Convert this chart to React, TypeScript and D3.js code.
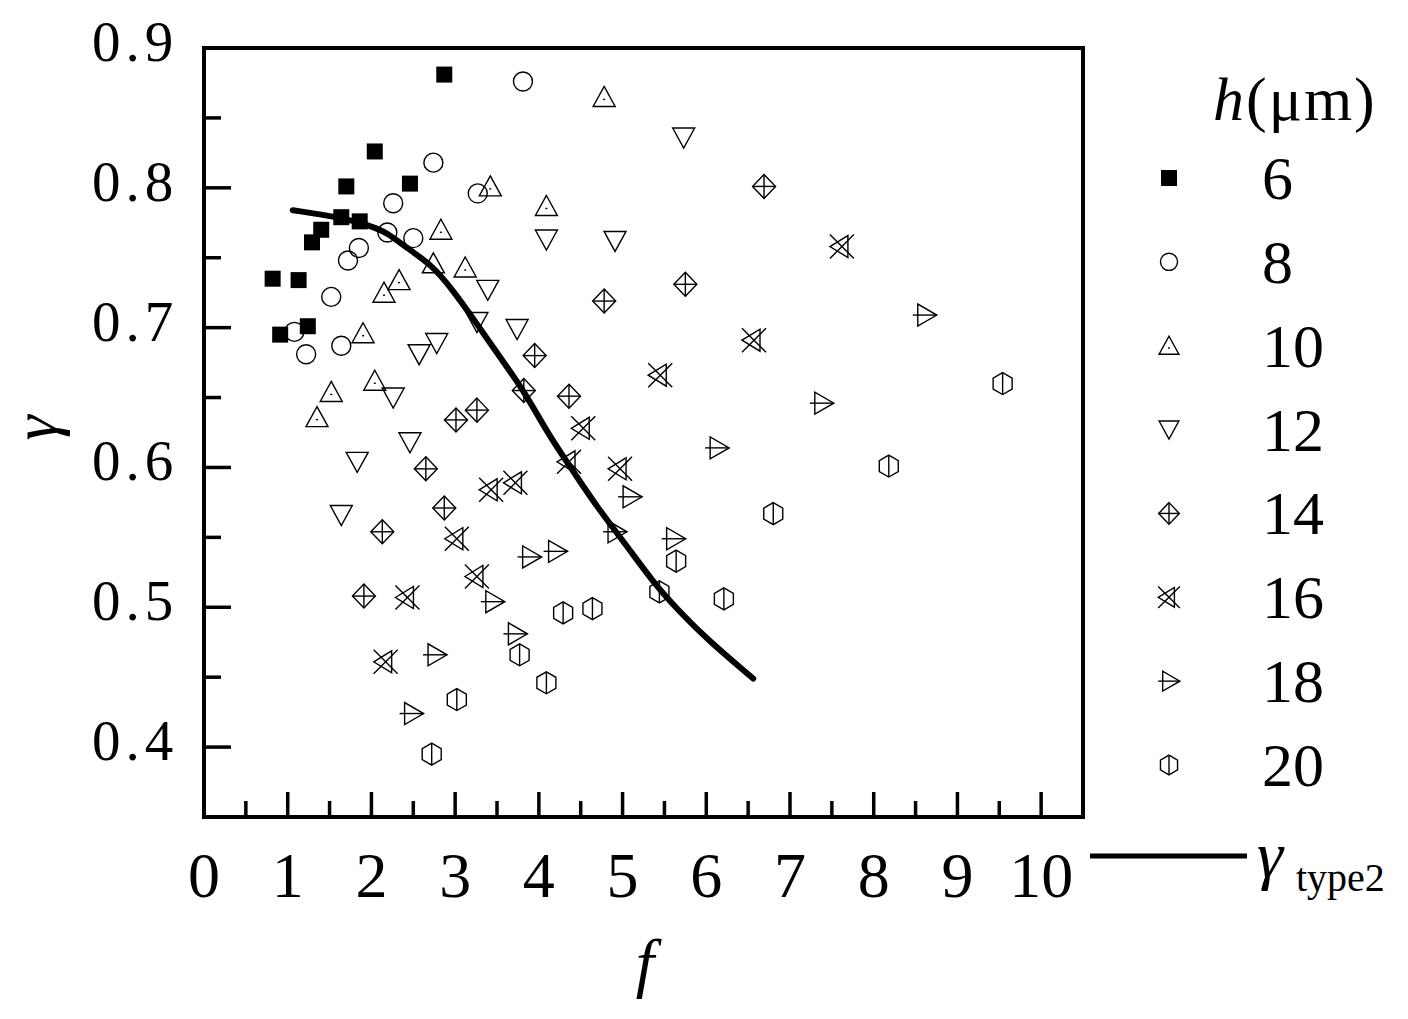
import React from "react";
import * as d3 from "d3";

// ---- data ----
const hLabels = ["6", "8", "10", "12", "14", "16", "18", "20"];

const s6x = [0.82, 1.13, 0.91, 1.24, 1.29, 1.40, 1.64, 1.70, 1.86, 2.04, 2.46, 2.87];
const s6y = [0.735, 0.734, 0.695, 0.701, 0.761, 0.770, 0.779, 0.801, 0.776, 0.826, 0.803, 0.881];

const s8x = [3.81, 2.74, 3.27, 2.26, 2.19, 2.50, 1.85, 1.72, 1.52, 1.08, 1.64, 1.22];
const s8y = [0.876, 0.818, 0.796, 0.789, 0.768, 0.764, 0.757, 0.748, 0.722, 0.697, 0.687, 0.681];

const s10x = [4.78, 3.42, 4.09, 2.83, 2.74, 3.12, 2.33, 2.15, 1.90, 2.04, 1.52, 1.35];
const s10y = [0.865, 0.801, 0.787, 0.770, 0.746, 0.743, 0.734, 0.725, 0.696, 0.662, 0.654, 0.636];

const s12x = [5.73, 4.09, 4.91, 3.39, 3.26, 3.74, 2.78, 2.57, 2.26, 2.46, 1.83, 1.64];
const s12y = [0.836, 0.763, 0.762, 0.727, 0.704, 0.699, 0.689, 0.681, 0.650, 0.618, 0.604, 0.566];

const s14x = [6.69, 5.75, 4.78, 3.95, 3.82, 4.36, 3.26, 3.01, 2.65, 2.87, 2.13, 1.91];
const s14y = [0.801, 0.731, 0.719, 0.680, 0.655, 0.651, 0.641, 0.634, 0.599, 0.571, 0.554, 0.508];

const s16x = [7.62, 6.57, 5.45, 4.97, 4.53, 4.36, 3.72, 3.43, 3.02, 3.26, 2.43, 2.17];
const s16y = [0.758, 0.691, 0.666, 0.599, 0.628, 0.604, 0.589, 0.584, 0.549, 0.522, 0.507, 0.461];

const s18x = [8.61, 7.38, 6.13, 5.61, 5.09, 4.91, 4.20, 3.89, 3.45, 3.72, 2.76, 2.48];
const s18y = [0.709, 0.646, 0.614, 0.549, 0.579, 0.554, 0.540, 0.536, 0.504, 0.481, 0.466, 0.424];

const s20x = [9.54, 8.18, 6.80, 6.21, 5.64, 5.44, 4.64, 4.29, 3.77, 4.09, 3.02, 2.72];
const s20y = [0.660, 0.601, 0.567, 0.506, 0.533, 0.511, 0.499, 0.496, 0.466, 0.446, 0.434, 0.395];

const curveX = [1.06, 1.62, 1.98, 2.19, 2.42, 2.72, 2.97, 3.21, 3.58, 3.82, 4.13, 4.37, 4.69, 5.05, 5.39, 5.68, 6.01, 6.56];
const curveY = [0.784, 0.779, 0.773, 0.768, 0.757, 0.745, 0.727, 0.707, 0.675, 0.655, 0.622, 0.601, 0.572, 0.544, 0.516, 0.497, 0.477, 0.449];

const xTicks = [0, 1, 2, 3, 4, 5, 6, 7, 8, 9, 10];
const xMinor = [0.5, 1.5, 2.5, 3.5, 4.5, 5.5, 6.5, 7.5, 8.5, 9.5, 10.5];
const yTicks = [0.4, 0.5, 0.6, 0.7, 0.8, 0.9];
const yMinor = [0.35, 0.45, 0.55, 0.65, 0.75, 0.85];

const seriesX = [s6x, s8x, s10x, s12x, s14x, s16x, s18x, s20x];
const seriesY = [s6y, s8y, s10y, s12y, s14y, s16y, s18y, s20y];

const FONT = "'Liberation Serif', 'Times New Roman', serif";

function Marker({ type, cx, cy, k = 1 }: { type: number; cx: number; cy: number; k?: number }) {
  const sw = 1.4;
  const p = (pts: number[][]) => pts.map(([a, b]) => `${cx + a * k},${cy + b * k}`).join(" ");
  const L = (x1: number, y1: number, x2: number, y2: number, key: string) => (
    <line key={key} x1={cx + x1 * k} y1={cy + y1 * k} x2={cx + x2 * k} y2={cy + y2 * k} stroke="#000" strokeWidth={sw} />
  );
  const common = { fill: "none", stroke: "#000", strokeWidth: sw };
  switch (type) {
    case 0:
      return <rect x={cx - 8} y={cy - 8} width={16} height={16} fill="#000" />;
    case 1:
      return <circle cx={cx} cy={cy} r={9.5 * k} {...common} />;
    case 2:
      return (
        <g>
          <polygon points={p([[0, -10.5], [11, 9.5], [-11, 9.5]])} {...common} />
          {L(-1, 2.5, 1, 2.5, "d")}
        </g>
      );
    case 3:
      return <polygon points={p([[-11, -9.5], [11, -9.5], [0, 10.5]])} {...common} />;
    case 4:
      return (
        <g>
          <polygon points={p([[0, -12], [11.5, 0], [0, 12], [-11.5, 0]])} {...common} />
          {L(-11.5, 0, 11.5, 0, "h")}
          {L(0, -12, 0, 12, "v")}
        </g>
      );
    case 5:
      return (
        <g>
          <polygon points={p([[-12, 0], [6, -11], [6, 11]])} {...common} />
          {L(-12, -12, 12, 12, "a")}
          {L(-12, 12, 12, -12, "b")}
        </g>
      );
    case 6:
      return (
        <g>
          <polygon points={p([[-7, -11], [-7, 11], [12, 0]])} {...common} />
          {L(-12, 0, 12, 0, "h")}
        </g>
      );
    default:
      return (
        <g>
          <polygon points={p([[0, -11], [9.5, -5.5], [9.5, 5.5], [0, 11], [-9.5, 5.5], [-9.5, -5.5]])} {...common} />
          {L(0, -11, 0, 11, "v")}
        </g>
      );
  }
}

export default function App() {
  const x = d3.scaleLinear().domain([0, 10.5]).range([204, 1083]);
  const y = d3.scaleLinear().domain([0.35, 0.9]).range([817, 48]);
  const curvePts: [number, number][] = curveX.map((v, i) => [v, curveY[i]]);
  const line = d3
    .line<[number, number]>()
    .x((d) => x(d[0]))
    .y((d) => y(d[1]))
    .curve(d3.curveBasis);
  const legY = d3.scalePoint<string>().domain(hLabels).range([178, 765]);

  return (
    <svg width={1408} height={1019} style={{ position: "absolute", left: 0, top: 0, background: "#fff" }} fontFamily={FONT}>
      <rect x={0} y={0} width={1408} height={1019} fill="#fff" />
      {/* markers */}
      {seriesX.map((xs, si) =>
        xs.map((xv, i) => <Marker key={`${si}-${i}`} type={si} cx={x(xv)} cy={y(seriesY[si][i])} />)
      )}
      {/* curve */}
      <path d={line(curvePts) || ""} fill="none" stroke="#000" strokeWidth={6} strokeLinecap="round" strokeLinejoin="round" />
      {/* frame */}
      <rect x={x(0)} y={y(0.9)} width={x(10.5) - x(0)} height={y(0.35) - y(0.9)} fill="none" stroke="#000" strokeWidth={4} />
      {/* x ticks */}
      {xTicks.map((t) => (
        <line key={`xt${t}`} x1={x(t)} x2={x(t)} y1={y(0.35)} y2={y(0.35) - 25} stroke="#000" strokeWidth={3.5} />
      ))}
      {xMinor.map((t) => (
        <line key={`xm${t}`} x1={x(t)} x2={x(t)} y1={y(0.35)} y2={y(0.35) - 16} stroke="#000" strokeWidth={3.5} />
      ))}
      {xTicks.map((t) => (
        <text key={`xl${t}`} x={x(t)} y={897} fontSize={64} textAnchor="middle">
          {t}
        </text>
      ))}
      {/* y ticks */}
      {yTicks.map((t) => (
        <line key={`yt${t}`} x1={x(0)} x2={x(0) + 27} y1={y(t)} y2={y(t)} stroke="#000" strokeWidth={3.5} />
      ))}
      {yMinor.map((t) => (
        <line key={`ym${t}`} x1={x(0)} x2={x(0) + 17} y1={y(t)} y2={y(t)} stroke="#000" strokeWidth={3.5} />
      ))}
      {yTicks.map((t) => (
        <text key={`yl${t}`} x={92} y={y(t) + 13} fontSize={57} letterSpacing={5}>
          {t.toFixed(1)}
        </text>
      ))}
      {/* axis titles */}
      <text x={645} y={985} fontSize={66} fontStyle="italic" textAnchor="middle">
        f
      </text>
      <text transform="translate(56,428) rotate(-90)" fontSize={64} fontStyle="italic" textAnchor="middle">
        γ
      </text>
      {/* legend */}
      <text x={1213} y={120} fontSize={62} letterSpacing={2}>
        <tspan fontStyle="italic">h</tspan>
        <tspan>(μm)</tspan>
      </text>
      {hLabels.map((lab, i) => (
        <g key={`lg${lab}`}>
          <Marker type={i} cx={1169} cy={legY(lab) as number} k={0.9} />
          <text x={1262} y={(legY(lab) as number) + 21} fontSize={62}>
            {lab}
          </text>
        </g>
      ))}
      <line x1={1090} x2={1247} y1={856} y2={856} stroke="#000" strokeWidth={5} />
      <text x={1257} y={877} fontSize={66} fontStyle="italic">
        γ
      </text>
      <text x={1296} y={891} fontSize={40}>
        type2
      </text>
    </svg>
  );
}
